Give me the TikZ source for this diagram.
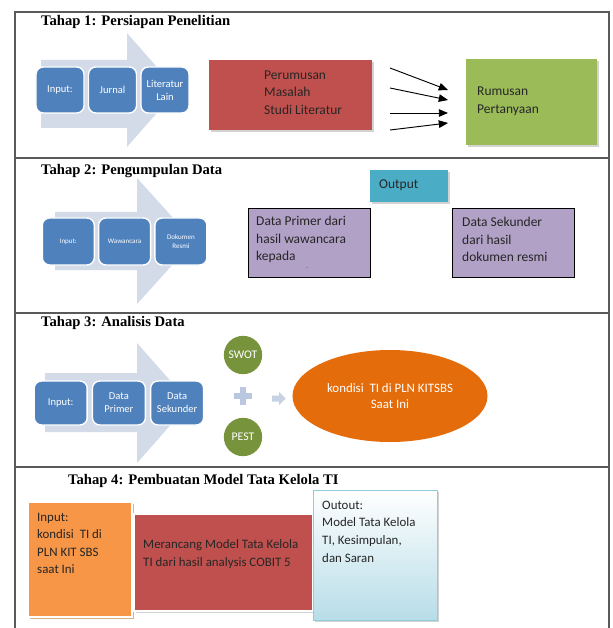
\documentclass[tikz,border=0pt]{standalone}
\usepackage{fontspec}
\setmainfont{Carlito}
\newfontfamily\judulfont{Liberation Serif}
\usetikzlibrary{calc,arrows,shapes,positioning,shadows}
\definecolor{panahbg}{RGB}{211,219,232}
\definecolor{biru}{RGB}{79,129,189}
\definecolor{merah}{RGB}{192,80,77}
\definecolor{hijau}{RGB}{155,187,89}
\definecolor{tosca}{RGB}{75,172,198}
\definecolor{ungu}{RGB}{178,161,199}
\definecolor{zaitun}{RGB}{119,147,60}
\definecolor{jingga}{RGB}{228,108,10}
\definecolor{oranye}{RGB}{247,150,70}
\definecolor{birumuda}{RGB}{183,221,232}
\definecolor{garisbiru}{RGB}{147,205,221}
\definecolor{tambah}{RGB}{185,200,224}
\definecolor{bingkaiabu}{RGB}{90,90,90}

\begin{document}
\begin{tikzpicture}[>=triangle 45,x=0.03cm,y=-0.03cm,
  bingkai/.style={draw=bingkaiabu,line width=1.2pt},
  judul/.style={anchor=west,inner sep=0,font=\judulfont\bfseries\fontsize{12.5}{14}\selectfont},
  kecil/.style={rectangle,rounded corners=0.22cm,fill=biru,draw=white,line width=1.2pt,
    text=white,align=center,inner sep=1pt},
  kotak/.style={rectangle,inner sep=0},
  bulat/.style={circle,fill=zaitun,text=white,minimum size=1.15cm,inner sep=0,font=\fontsize{10}{11}\selectfont},
  bayang/.style={drop shadow={shadow xshift=1.5pt,shadow yshift=-1.5pt,opacity=0.35}},
  teks/.style={anchor=west,align=left,inner sep=0,text=black!85,font=\fontsize{11.5}{15}\selectfont}
]
\useasboundingbox (0,0) rectangle (612,628);

\draw[bingkai] (15,628) -- (15,12) -- (609,12) -- (609,628);
\foreach \y in {158,313,467} {
	\draw[bingkai] (15,\y) -- (609,\y);
}

\node[judul] (judulA) at (41,22) {Tahap 1: Persiapan Penelitian};
\fill[panahbg] (41,60) -- (127,60) -- (127,33) -- (177,90) -- (127,147) -- (127,128) -- (41,128) -- cycle;
\foreach \nama/\isi [count=\i] in {inA/{Input:},inB/{Jurnal},inC/{Literatur\\Lain}} {
	\node[kecil,minimum width=1.44cm,minimum height=1.38cm,font=\fontsize{9}{11}\selectfont] (\nama) at ({7.5+52.5*\i},90) {\isi};
}
\node[kotak,fill=merah,minimum width=4.89cm,minimum height=2.1cm,bayang] (masalah) at (290.5,95) {};
\node[teks] (masalahT) at (264,92.5) {Perumusan\\Masalah\\Studi Literatur};
\foreach \ya/\yb [count=\i] in {68/90,88/100,113/113,130/123} {
	\coordinate (p\i) at (390,\ya);
	\coordinate (q\i) at (448,\yb);
	\draw[->,thick] (p\i) -- (q\i);
}
\node[kotak,fill=hijau,minimum width=3.93cm,minimum height=2.58cm,bayang] (rumusan) at (531.5,102) {};
\node[teks] (rumusanT) at (477,101.5) {Rumusan\\Pertanyaan};

\node[judul] (judulB) at (41,171) {Tahap 2: Pengumpulan Data};
\fill[panahbg] (55,212) -- (137,212) -- (137,178) -- (194,241) -- (137,304) -- (137,270) -- (55,270) -- cycle;
\foreach \nama/\isi [count=\i] in {inD/{Input:},inE/{Wawancara},inF/{Dokumen\\Resmi}} {
	\node[kecil,minimum width=1.56cm,minimum height=1.41cm,font=\fontsize{6}{8}\selectfont] (\nama) at ({12+56.3*\i},241.5) {\isi};
}
\node[kotak,fill=tosca,minimum width=2.34cm,minimum height=0.96cm,bayang] (keluaran) at (409,186) {};
\node[teks] (keluaranT) at (379,185) {Output};
\node[kotak,fill=ungu,draw=black,minimum width=3.66cm,minimum height=2.07cm] (primer) at (309,242.5) {};
\node[teks] (primerT) at (256,239.5) {Data Primer dari\\hasil wawancara\\kepada};
\node[inner sep=0,font=\tiny] (titik) at (307,268) {.};
\node[kotak,fill=ungu,draw=black,minimum width=3.66cm,minimum height=2.07cm] (sekunder) at (513,242.5) {};
\node[teks] (sekunderT) at (462,239.5) {Data Sekunder\\dari hasil\\dokumen resmi};

\node[judul] (judulC) at (41,323) {Tahap 3: Analisis Data};
\fill[panahbg] (45,373) -- (137,373) -- (137,343) -- (190,403) -- (137,463) -- (137,432) -- (45,432) -- cycle;
\foreach \nama/\isi [count=\i] in {inG/{Input:},inH/{Data\\Primer},inI/{Data\\Sekunder}} {
	\node[kecil,minimum width=1.59cm,minimum height=1.32cm,font=\fontsize{9}{11}\selectfont] (\nama) at ({2.5+58.2*\i},403) {\isi};
}
\node[bulat] (swot) at (243,355) {SWOT};
\node[bulat] (pest) at (243,437) {PEST};
\fill[tambah] (234,393) rectangle (252,399);
\fill[tambah] (240,387) rectangle (246,405);
\fill[panahbg!90!biru] (272,395.5) -- (279,395.5) -- (279,392) -- (285.5,398.5) -- (279,405) -- (279,401.5) -- (272,401.5) -- cycle;
\node[ellipse,fill=jingga,text=white,minimum width=5.85cm,minimum height=2.76cm,inner sep=0,align=center,font=\fontsize{11}{14}\selectfont] (kondisi) at (390,396) {kondisi~ TI di PLN KITSBS\\Saat Ini};

\node[judul] (judulD) at (68,481) {Tahap 4: Pembuatan Model Tata Kelola TI};
\node[kotak,fill=oranye,draw=white,line width=1.5pt,minimum width=3.12cm,minimum height=3.45cm,
  drop shadow={shadow xshift=1.5pt,shadow yshift=-2pt,opacity=0.6,fill=brown}] (masukan) at (80,559.5) {};
\node[teks,font=\fontsize{11}{15}\selectfont] (masukanT) at (37,543.5) {Input:\\kondisi~ TI di\\PLN KIT SBS\\saat Ini};
\node[kotak,fill=merah,draw=white,line width=1pt,minimum width=5.37cm,minimum height=2.91cm,bayang] (rancang) at (223.5,562.5) {};
\node[teks,font=\fontsize{11}{15}\selectfont] (rancangT) at (143,554) {Merancang Model Tata Kelola\\TI dari hasil analysis COBIT 5};
\node[kotak,top color=white,bottom color=birumuda,draw=garisbiru,minimum width=3.72cm,minimum height=3.9cm,bayang] (hasil) at (375,555) {};
\node[teks,font=\fontsize{11}{15}\selectfont] (hasilT) at (322,531.5) {Outout:\\Model Tata Kelola\\TI, Kesimpulan,\\dan Saran};

\end{tikzpicture}
\end{document}
